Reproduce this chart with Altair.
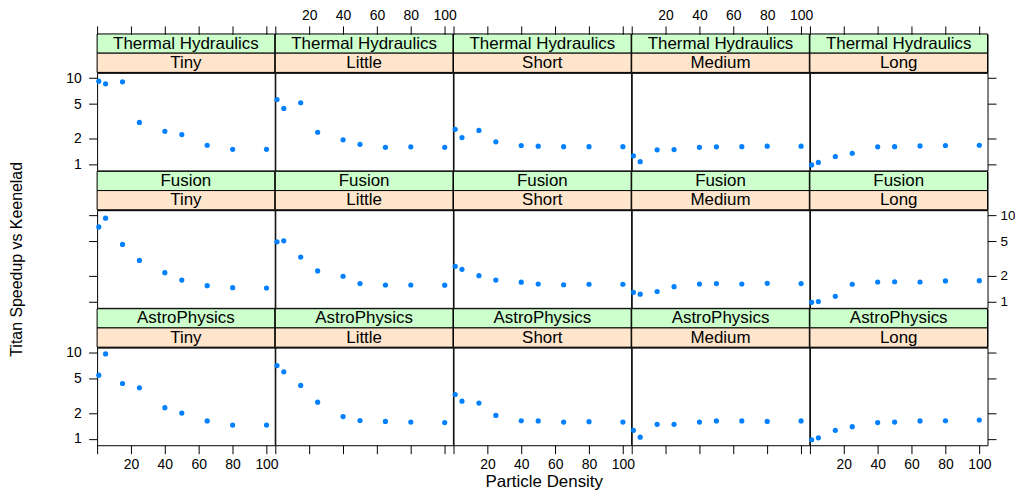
import altair as alt
import pandas as pd

FONT = "Liberation Sans"

apps = ["Thermal Hydraulics", "Fusion", "AstroPhysics"]
sizes = ["Tiny", "Little", "Short", "Medium", "Long"]
density = [1, 5, 15, 25, 40, 50, 65, 80, 100]

th_tiny = [9.23, 8.59, 9.06, 3.06, 2.41, 2.21, 1.66, 1.49, 1.49]
th_little = [5.65, 4.45, 5.18, 2.35, 1.92, 1.70, 1.57, 1.59, 1.57]
th_short = [2.54, 2.04, 2.47, 1.82, 1.65, 1.62, 1.60, 1.60, 1.60]
th_medium = [1.25, 1.07, 1.47, 1.48, 1.57, 1.59, 1.60, 1.62, 1.62]
th_long = [0.98, 1.05, 1.23, 1.34, 1.59, 1.60, 1.63, 1.65, 1.66]

fu_tiny = [7.38, 9.31, 4.62, 3.01, 2.17, 1.78, 1.53, 1.45, 1.44]
fu_little = [4.95, 5.08, 3.29, 2.27, 1.97, 1.62, 1.56, 1.56, 1.55]
fu_short = [2.57, 2.37, 2.00, 1.78, 1.68, 1.60, 1.57, 1.59, 1.59]
fu_medium = [1.28, 1.22, 1.31, 1.49, 1.60, 1.62, 1.60, 1.63, 1.62]
fu_long = [0.98, 1.00, 1.15, 1.59, 1.69, 1.70, 1.69, 1.74, 1.75]

ap_tiny = [5.51, 9.73, 4.41, 3.94, 2.31, 2.00, 1.62, 1.45, 1.45]
ap_little = [7.13, 6.03, 4.19, 2.68, 1.82, 1.64, 1.60, 1.57, 1.55]
ap_short = [3.29, 2.75, 2.61, 1.88, 1.63, 1.62, 1.57, 1.59, 1.57]
ap_medium = [1.26, 1.05, 1.48, 1.48, 1.57, 1.62, 1.62, 1.60, 1.62]
ap_long = [0.98, 1.03, 1.26, 1.39, 1.55, 1.57, 1.62, 1.63, 1.66]

speedups = {
    "Thermal Hydraulics": [th_tiny, th_little, th_short, th_medium, th_long],
    "Fusion": [fu_tiny, fu_little, fu_short, fu_medium, fu_long],
    "AstroPhysics": [ap_tiny, ap_little, ap_short, ap_medium, ap_long],
}

x_ticks = [0, 20, 40, 60, 80, 100]
y_ticks = [1, 2, 5, 10]

W = 178.4
STRIP_H = 19.3
PLOT_H = 98.1
X_DOMAIN = [0, 104.85]
Y_DOMAIN = [0.846, 11.54]

records = []
for app in apps:
    for s, size in enumerate(sizes):
        for d, v in zip(density, speedups[app][s]):
            records.append({"app": app, "size": size, "density": d, "speedup": v})
df = pd.DataFrame(records)


def x_axis(r, c):
    if r == 0:
        return alt.Axis(orient="top", offset=2 * STRIP_H, values=x_ticks,
                        labels=(c in (1, 3)), labelPadding=3.7,
                        labelExpr="datum.value == 0 ? '' : datum.label", title=None)
    if r == 2:
        return alt.Axis(orient="bottom", values=x_ticks,
                        labels=(c in (0, 2, 4)), labelPadding=4,
                        labelExpr="datum.value == 0 ? '' : datum.label", title=None)
    return None


def y_axis(r, c):
    if c == 0:
        return alt.Axis(orient="left", values=y_ticks, labels=(r in (0, 2)),
                        labelPadding=7.5, title=None)
    if c == 4:
        return alt.Axis(orient="right", values=y_ticks, labels=(r == 1),
                        labelPadding=4, labelFontSize=13.5, title=None)
    return None


def strip_chart(app, size):
    sdf = pd.DataFrame({"level": ["app", "size"], "label": [app, size]})
    base = alt.Chart(sdf).encode(
        y=alt.Y("level:N", scale=alt.Scale(type="band", domain=["app", "size"],
                                           paddingInner=0, paddingOuter=0), axis=None)
    )
    rect = base.mark_rect(stroke="black", strokeWidth=1).encode(
        x=alt.value(0), x2=alt.value(W),
        color=alt.Color("level:N", scale=alt.Scale(domain=["app", "size"],
                                                   range=["#CCFFCC", "#FFE5CC"]),
                        legend=None),
    )
    txt = base.mark_text(font=FONT, fontSize=17, color="black",
                         align="center", baseline="middle").encode(
        x=alt.value(W / 2), text="label:N"
    )
    return alt.layer(rect, txt).properties(width=W, height=2 * STRIP_H)


def plot_chart(r, c, app, size):
    pdf = df[(df["app"] == app) & (df["size"] == size)]
    xenc = alt.X("density:Q", scale=alt.Scale(domain=X_DOMAIN, nice=False, zero=False),
                 axis=x_axis(r, c))
    yenc = alt.Y("speedup:Q", scale=alt.Scale(type="log", domain=Y_DOMAIN, nice=False),
                 axis=y_axis(r, c))
    return alt.Chart(pdf).mark_circle(size=27, color="#0080FF", opacity=1).encode(
        x=xenc, y=yenc
    ).properties(width=W, height=PLOT_H)


items = []
for r, app in enumerate(apps):
    for c, size in enumerate(sizes):
        items.append(strip_chart(app, size))
    for c, size in enumerate(sizes):
        items.append(plot_chart(r, c, app, size))

grid = alt.concat(
    *items, columns=5, spacing=0, bounds="flush",
    title=alt.TitleParams("Particle Density", orient="bottom", anchor="middle",
                          font=FONT, fontSize=17, fontWeight="normal",
                          color="black", offset=2, dx=4),
)

chart = alt.vconcat(
    grid,
    title=alt.TitleParams("Titan Speedup vs Keenelad", orient="left", anchor="middle",
                          font=FONT, fontSize=16, fontWeight="normal",
                          color="black", offset=40, dx=-10.5),
).properties(
    padding={"left": 0.5, "top": -2, "right": -1, "bottom": 0}
).configure_view(
    stroke="black", strokeWidth=1
).configure_axis(
    domain=False, grid=False, tickColor="black", tickSize=8.5, tickWidth=1,
    labelFont=FONT, labelFontSize=14, labelColor="black"
).configure_concat(spacing=0)

chart.save("out.html", embed_options={"renderer": "svg", "actions": False})
